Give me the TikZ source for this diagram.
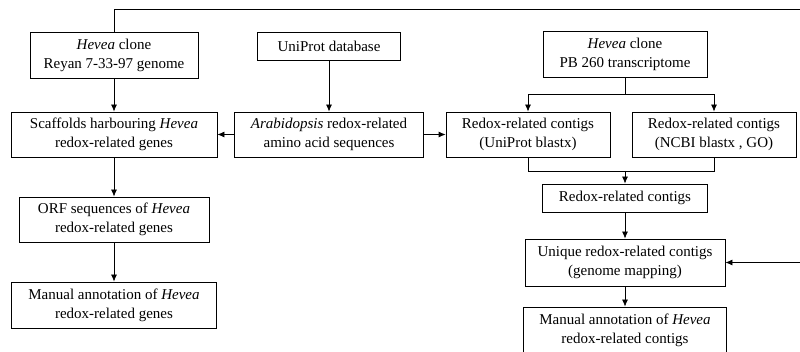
\documentclass[tikz,border=0pt]{standalone}
\usepackage{fontspec}
\setmainfont{Liberation Serif}
\usepackage{tikz}
\usetikzlibrary{arrows.meta}
\usetikzlibrary{positioning}
\tikzset{box/.style = {draw, rectangle, inner sep = 0, align = center, font = \fontsize{15}{19}\selectfont}}
\tikzset{arr/.style = {-{Latex[length=7pt, width=6pt]}}}

\begin{document}
\begin{tikzpicture}[x=1pt, y=-1pt, line width=0.8pt]
      \useasboundingbox (0, 0) rectangle (800, 352);

      % genome side
      \node [box, minimum width=168, minimum height=46] (hgen) at (114, 55) {\textit{Hevea} clone\\Reyan 7-33-97 genome};
      \node [box, minimum width=206, minimum height=45] (scaf) at (114, 134.5) {Scaffolds harbouring \textit{Hevea}\\redox-related genes};
      \node [box, minimum width=190, minimum height=45] (orf) at (114, 219.5) {ORF sequences of \textit{Hevea}\\redox-related genes};
      \node [box, minimum width=205, minimum height=46] (mang) at (114, 305) {Manual annotation of \textit{Hevea}\\redox-related genes};

      % database
      \node [box, minimum width=143, minimum height=28] (uniprot) at (329, 46) {UniProt database};
      \node [box, minimum width=189, minimum height=45] (arab) at (329, 134.5) {\textit{Arabidopsis} redox-related\\amino acid sequences};

      % transcriptome side
      \node [box, minimum width=164, minimum height=46] (hpb) at (625, 54) {\textit{Hevea} clone\\PB 260 transcriptome};
      \node [box, minimum width=164, minimum height=45] (rcuni) at (528, 134.5) {Redox-related contigs\\(UniProt blastx)};
      \node [box, minimum width=164, minimum height=45] (rcncbi) at (714, 134.5) {Redox-related contigs\\(NCBI blastx , GO)};
      \node [box, minimum width=165, minimum height=28] (rc) at (625, 198) {Redox-related contigs};
      \node [box, minimum width=200, minimum height=47] (uniq) at (625, 262.5) {Unique redox-related contigs\\(genome mapping)};
      \node [box, minimum width=203, minimum height=46] (manc) at (625, 330) {Manual annotation of \textit{Hevea}\\redox-related contigs};

      \coordinate (split) at (625, 94);
      \coordinate (join) at (625, 171);
      \coordinate (tr) at (801, 9);

      \draw [arr] (hgen) -- (scaf);
      \draw [arr] (scaf) -- (orf);
      \draw [arr] (orf) -- (mang);
      \draw [arr] (uniprot) -- (arab);
      \draw [arr] (arab) -- (scaf);
      \draw [arr] (arab) -- (rcuni);

      \draw (hpb) -- (split);
      \draw [arr] (split) -| (rcuni);
      \draw [arr] (split) -| (rcncbi);
      \draw (rcuni) |- (join);
      \draw (rcncbi) |- (join);
      \draw [arr] (join) -- (rc);
      \draw [arr] (rc) -- (uniq);
      \draw [arr] (uniq) -- (manc);

      \draw [arr] (hgen) |- (tr) |- (uniq);
    \end{tikzpicture}
\end{document}
